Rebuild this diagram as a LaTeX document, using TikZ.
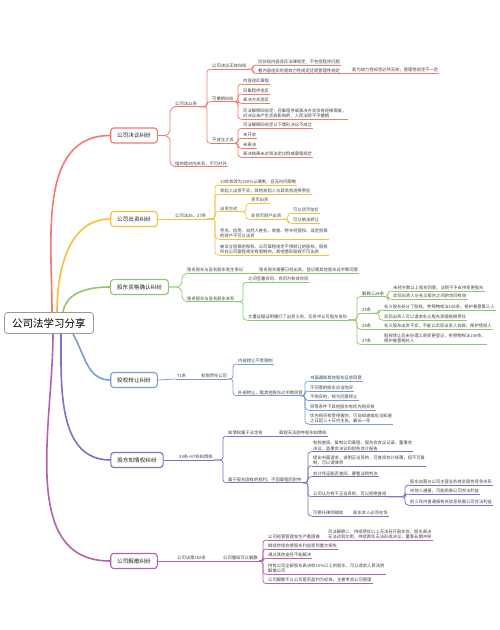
\documentclass[tikz,border=0pt]{standalone}
\usepackage{fontspec}
\setmainfont{Noto Sans CJK SC}

\definecolor{cred}{HTML}{EF7B6E}
\definecolor{cyel}{HTML}{F7BF3E}
\definecolor{cgrn}{HTML}{8CC96B}
\definecolor{cblu}{HTML}{7A9CD6}
\definecolor{cpur}{HTML}{8070C2}
\definecolor{cmag}{HTML}{B362AC}

\tikzset{
  root/.style={rectangle,draw=black!40,line width=0.8pt,rounded corners=3pt,fill=white,minimum width=89pt,minimum height=21pt,font=\fontsize{10.5}{12}\selectfont},
  topic/.style={rectangle,draw=#1,line width=1.1pt,rounded corners=3pt,fill=white,minimum height=15pt,inner xsep=6.5pt,font=\fontsize{5.6}{6.5}\selectfont,text=black!85},
  leaf/.style={anchor=south west,inner xsep=1pt,inner ysep=0.9pt,align=left,font=\fontsize{4.3}{5.3}\selectfont,text=black!75,
    append after command={(\tikzlastnode.south west) edge[draw=#1,line width=0.75pt] (\tikzlastnode.south east)}},
  link/.style={draw=#1,line width=0.75pt,rounded corners=3pt},
  trunk/.style={draw=#1,line width=1.6pt},
}

\begin{document}
\begin{tikzpicture}[x=1pt,y=-1pt]
    \useasboundingbox (0,0) rectangle (500,630);
    \fill[white] (0,0) rectangle (500,630);

    % Root
    \node[root] (root) at (49,323) {公司法学习分享};

    % Topics
    \node[topic=cred] (jy) at (134,135.5) {公司决议纠纷};
    \node[topic=cyel] (cz) at (134,219) {公司出资纠纷};
    \node[topic=cgrn] (zg) at (139.5,287) {股东资格确认纠纷};
    \node[topic=cblu] (gz) at (134,380) {股权转让纠纷};
    \node[topic=cpur] (zq) at (137,460) {股东知情权纠纷};
    \node[topic=cmag] (js) at (134,561) {公司解散纠纷};

    % Trunks
    \draw[trunk=cred] ([xshift=3pt]root.north) to[out=90,in=180] (jy.west);
    \draw[trunk=cyel] ([xshift=8pt]root.north) to[out=90,in=180] (cz.west);
    \draw[trunk=cgrn] ([xshift=14pt]root.north) to[out=80,in=180] (zg.west);
    \draw[trunk=cblu] ([xshift=24pt]root.south) to[out=-60,in=180] (gz.west);
    \draw[trunk=cpur] ([xshift=12pt]root.south) to[out=-90,in=180] (zq.west);
    \draw[trunk=cmag] ([xshift=4pt]root.south) to[out=-90,in=180] (js.west);

    % Company resolution disputes
    \node[leaf=cred] (jy22) at (174,106.7) {公司法22条};
    \node[leaf=cred] (jyin) at (174,166.7) {指的是对内关系，不可对外};
    \node[leaf=cred] (wx) at (211,69.3) {公司决议无效纠纷};
    \node[leaf=cred] (wx1) at (257,65) {仅仅指内容违反法律规定，不包括程序问题};
    \node[leaf=cred] (wx2) at (257,73.5) {看内容违反的是效力性规定还是管理性规定};
    \node[leaf=cred] (wx3) at (351,73.5) {若为效力性规定必然无效，管理性规定不一定};
    \node[leaf=cred] (cx) at (211,101.7) {可撤销纠纷};
    \node[leaf=cred] (cx1) at (242,84) {内容违反章程};
    \node[leaf=cred] (cx2) at (242,94) {召集程序违反};
    \node[leaf=cred] (cx3) at (242,103.3) {表决方式违反};
    \node[leaf=cred] (cx4) at (242,119.3) {司法解释四规定：召集程序或表决方式仅有轻微瑕疵，\\对决议未产生实质影响的，人民法院不予撤销};
    \node[leaf=cred] (bc) at (211,143.3) {不成立之诉};
    \node[leaf=cred] (bc1) at (242,128.3) {司法解释四规定以下情形决议不成立};
    \node[leaf=cred] (bc2) at (242,138.3) {未开会};
    \node[leaf=cred] (bc3) at (242,148.3) {未表决};
    \node[leaf=cred] (bc4) at (242,157.3) {表决结果未达到法定比例或章程规定};

    \draw[link=cred,rounded corners=6pt] (jy.east) -| ([xshift=-4pt]jy22.south west) -- (jy22.south west);
    \draw[link=cred,rounded corners=6pt] (jy.east) -| ([xshift=-4pt]jyin.south west) -- (jyin.south west);
    \foreach \c in {wx,cx,bc}
      \draw[link=cred] (jy22.south east) -| ([xshift=-4pt]\c.south west) -- (\c.south west);
    \foreach \c in {wx1,wx2}
      \draw[link=cred] (wx.south east) -| ([xshift=-4pt]\c.south west) -- (\c.south west);
    \draw[link=cred] (wx2.south east) -- (wx3.south west);
    \foreach \c in {cx1,cx2,cx3,cx4}
      \draw[link=cred] (cx.south east) -| ([xshift=-4pt]\c.south west) -- (\c.south west);
    \foreach \c in {bc1,bc2,bc3,bc4}
      \draw[link=cred] (bc.south east) -| ([xshift=-4pt]\c.south west) -- (\c.south west);

    % Capital contribution disputes
    \node[leaf=cyel] (cz26) at (174,219) {公司法26、27条};
    \node[leaf=cyel] (rj) at (219,185) {13年修改为100\%认缴制，且无时间限制};
    \node[leaf=cyel] (fq) at (219,194.3) {发起人出资不实，其他发起人与其承担连带责任};
    \node[leaf=cyel] (fs) at (219,211.7) {出资方式};
    \node[leaf=cyel] (hb) at (250,203.3) {货币出资};
    \node[leaf=cyel] (fhb) at (250,219.3) {非货币财产出资};
    \node[leaf=cyel] (gj) at (292,213.3) {可以货币估价};
    \node[leaf=cyel] (yf) at (292,223.3) {可以依法转让};
    \node[leaf=cyel] (lw) at (219,239) {劳务、信用、自然人姓名、商誉、特许经营权、设定担保\\的财产不可以出资};
    \node[leaf=cyel] (db) at (219,255) {被设立担保的股权，公司章程规定不得转让的股权，股权\\所在公司章程规定有限制的，其他情形股权不可出资};

    \draw[link=cyel] (cz.east) -- (cz26.south west);
    \foreach \c in {rj,fq,fs,lw,db}
      \draw[link=cyel] (cz26.south east) -| ([xshift=-4pt]\c.south west) -- (\c.south west);
    \foreach \c in {hb,fhb}
      \draw[link=cyel] (fs.south east) -| ([xshift=-4pt]\c.south west) -- (\c.south west);
    \foreach \c in {gj,yf}
      \draw[link=cyel] (fhb.south east) -| ([xshift=-4pt]\c.south west) -- (\c.south west);

    % Shareholder status disputes
    \node[leaf=cgrn] (zy) at (186,273.3) {隐名股东与显名股东发生争议};
    \node[leaf=cgrn] (zy1) at (258,273.3) {隐名股东需要已经出资，登记需其他股东过半数同意};
    \node[leaf=cgrn] (gx) at (186,301.7) {隐名股东与显名股东关系};
    \node[leaf=cgrn] (gx1) at (247,282.3) {之间签署合同，合同为有效合同};
    \node[leaf=cgrn] (gx2) at (247,320) {大量证据证明履行了出资义务，实务中认可股东身份};
    \node[leaf=cgrn] (s24) at (361,296.7) {解释三24条};
    \node[leaf=cgrn] (s241) at (392,291) {未经半数以上股东同意，法院不予支持变更股东};
    \node[leaf=cgrn] (s242) at (392,299.3) {实际出资人与名义股东之间的合同有效};
    \node[leaf=cgrn] (s25) at (361,313.3) {25条};
    \node[leaf=cgrn] (s251) at (383,310) {名义股东处分了股权，参照物权法106条，保护善意第三人};
    \node[leaf=cgrn] (s252) at (383,320) {实际出资人可以请求名义股东承担赔偿责任};
    \node[leaf=cgrn] (s26) at (361,329) {26条};
    \node[leaf=cgrn] (s261) at (383,329) {名义股东出资不实，不能以实际出资人抗辩，保护债权人};
    \node[leaf=cgrn] (s27) at (361,344.3) {27条};
    \node[leaf=cgrn] (s271) at (383,344.3) {股权转让后未办理工商变更登记，参照物权法106条，\\保护善意相对人};

    \foreach \c in {zy,gx}
      \draw[link=cgrn,rounded corners=6pt] (zg.east) -| ([xshift=-4pt]\c.south west) -- (\c.south west);
    \draw[link=cgrn] (zy.south east) -- (zy1.south west);
    \foreach \c in {gx1,gx2}
      \draw[link=cgrn] (gx.south east) -| ([xshift=-4pt]\c.south west) -- (\c.south west);
    \foreach \c in {s24,s25,s26,s27}
      \draw[link=cgrn] (gx2.south east) -| ([xshift=-4pt]\c.south west) -- (\c.south west);
    \foreach \c in {s241,s242}
      \draw[link=cgrn] (s24.south east) -| ([xshift=-4pt]\c.south west) -- (\c.south west);
    \foreach \c in {s251,s252}
      \draw[link=cgrn] (s25.south east) -| ([xshift=-4pt]\c.south west) -- (\c.south west);
    \draw[link=cgrn] (s26.south east) -- (s261.south west);
    \draw[link=cgrn] (s27.south east) -- (s271.south west);

    % Equity transfer disputes
    \node[leaf=cblu] (t71) at (176,379) {71条};
    \node[leaf=cblu] (yx) at (200,379) {有限责任公司};
    \node[leaf=cblu] (nb) at (237,364) {内部转让不受限制};
    \node[leaf=cblu] (wb) at (237,395.7) {外部转让，需其他股东过半数同意};
    \node[leaf=cblu] (wb1) at (309,381) {书面通知其他股东征求同意};
    \node[leaf=cblu] (wb2) at (309,391) {不同意的股东应当购买};
    \node[leaf=cblu] (wb3) at (309,400.5) {不购买的，视为同意转让};
    \node[leaf=cblu] (wb4) at (309,410) {同等条件下其他股东有优先购买权};
    \node[leaf=cblu] (wb5) at (309,424) {优先购买权受侵害的，可自知道或应当知道\\之日起三十日内主张，最长一年};

    \draw[link=cblu] (gz.east) -- (t71.south west);
    \draw[link=cblu] (t71.south east) -- (yx.south west);
    \foreach \c in {nb,wb}
      \draw[link=cblu] (yx.south east) -| ([xshift=-4pt]\c.south west) -- (\c.south west);
    \foreach \c in {wb1,wb2,wb3,wb4,wb5}
      \draw[link=cblu] (wb.south east) -| ([xshift=-4pt]\c.south west) -- (\c.south west);

    % Right to information disputes
    \node[leaf=cpur] (t33) at (178,460) {33条+97条知情权};
    \node[leaf=cpur] (fd) at (227,436) {知情权属于法定权};
    \node[leaf=cpur] (fd1) at (278,436) {章程无法剥夺股东知情权};
    \node[leaf=cpur] (gy) at (227,482.7) {属于股东固有的权利，不因章程而剥夺};
    \node[leaf=cpur] (gy1) at (312,451.7) {有权查阅、复制公司章程、股东会会议记录、董事会\\决议、监事会决议和财务会计报告};
    \node[leaf=cpur] (gy2) at (312,466) {提出书面请求，说明正当目的，可查阅会计账簿，但不可复\\制，可以请律师};
    \node[leaf=cpur] (gy3) at (312,476.7) {会计凭证能否查阅，要看法院判决};
    \node[leaf=cpur] (gy4) at (312,496.7) {公司认为有不正当目的，可以拒绝查阅};
    \node[leaf=cpur] (bz1) at (409,485) {股东自营与公司主营业务有实质性竞争关系};
    \node[leaf=cpur] (bz2) at (409,494) {向他人通报，可能损害公司合法利益};
    \node[leaf=cpur] (bz3) at (409,505) {前三年内曾通报有关信息损害公司合法利益};
    \node[leaf=cpur] (gy5) at (312,516) {可委托律师辅助};
    \node[leaf=cpur] (gy51) at (352,516) {股东本人必须在场};

    \draw[link=cpur] (zq.east) -- (t33.south west);
    \foreach \c in {fd,gy}
      \draw[link=cpur] (t33.south east) -| ([xshift=-4pt]\c.south west) -- (\c.south west);
    \draw[link=cpur] (fd.south east) -- (fd1.south west);
    \foreach \c in {gy1,gy2,gy3,gy4,gy5}
      \draw[link=cpur] (gy.south east) -| ([xshift=-4pt]\c.south west) -- (\c.south west);
    \foreach \c in {bz1,bz2,bz3}
      \draw[link=cpur] (gy4.south east) -| ([xshift=-4pt]\c.south west) -- (\c.south west);
    \draw[link=cpur] (gy5.south east) -- (gy51.south west);

    % Dissolution disputes
    \node[leaf=cmag] (f182) at (176,561) {公司法第182条};
    \node[leaf=cmag] (jj) at (222,561) {公司僵局可以解散};
    \node[leaf=cmag] (kn) at (267,540) {公司经营管理发生严重困难};
    \node[leaf=cmag] (kn1) at (327,540) {司法解释二：持续两年以上无法召开股东会，股东表决\\无法达到比例，持续两年无法形成决议，董事长期冲突};
    \node[leaf=cmag] (ss) at (267,549) {继续存续会使股东利益受到重大损失};
    \node[leaf=cmag] (tj) at (267,558.3) {通过其他途径不能解决};
    \node[leaf=cmag] (bl) at (267,574.3) {持有公司全部股东表决权10\%以上的股东，可以请求人民法院\\解散公司};
    \node[leaf=cmag] (yl) at (267,583.5) {公司解散不以公司是否盈利为标准，主要考虑公司管理};

    \draw[link=cmag] (js.east) -- (f182.south west);
    \draw[link=cmag] (f182.south east) -- (jj.south west);
    \foreach \c in {kn,ss,tj,bl,yl}
      \draw[link=cmag] (jj.south east) -| ([xshift=-4pt]\c.south west) -- (\c.south west);
    \draw[link=cmag] (kn.south east) -- (kn1.south west);
\end{tikzpicture}
\end{document}
